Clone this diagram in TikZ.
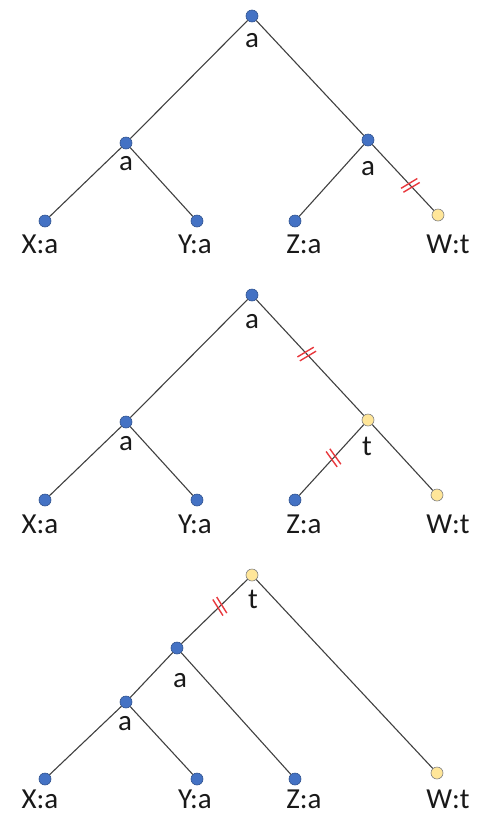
\documentclass[tikz,border=0pt]{standalone}
\usepackage{fontspec}
\setmainfont{Carlito}
\usetikzlibrary{decorations.markings}
\definecolor{bluefill}{HTML}{4472C4}
\definecolor{blueline}{HTML}{2F528F}
\definecolor{yelfill}{HTML}{FFE699}
\definecolor{yelline}{HTML}{808080}
\definecolor{edgecol}{HTML}{404040}
\definecolor{cutcol}{HTML}{E8383D}
\tikzset{
  bdot/.style={circle, draw=blueline, fill=bluefill, line width=0.6pt, minimum size=12pt, inner sep=0pt},
  ydot/.style={circle, draw=yelline, fill=yelfill, line width=0.6pt, minimum size=12pt, inner sep=0pt},
  lab/.style={anchor=base, inner sep=0pt, font=\fontsize{29}{31}\selectfont, text=black!90},
  edge/.style={draw=edgecol, line width=1.1pt},
  cut/.style={postaction={decorate, decoration={markings,
    mark=at position #1 with {\draw[cutcol, line width=1.4pt, rotate=-12] (-2.3pt,-9.5pt)--(-2.3pt,9.5pt) (2.3pt,-9.5pt)--(2.3pt,9.5pt);}}}}
}
\begin{document}
\begin{tikzpicture}[x=1pt,y=-1pt]
\useasboundingbox (0,0) rectangle (484,815);
% ---------- Tree 1 ----------
\node[bdot] (r1) at (252,16) {};
\node[bdot] (l1) at (126,143) {};
\node[bdot] (m1) at (368,140) {};
\node[bdot] (x1) at (45,221) {};
\node[bdot] (y1) at (197,221) {};
\node[bdot] (z1) at (295,221) {};
\node[ydot] (w1) at (438,215) {};
\draw[edge] (r1) -- (l1);
\draw[edge] (r1) -- (m1);
\draw[edge] (l1) -- (x1);
\draw[edge] (l1) -- (y1);
\draw[edge] (m1) -- (z1);
\draw[edge, cut=0.62] (m1) -- (w1);
\node[lab] (ra1) at (252,47) {a};
\node[lab] (la1) at (126,170) {a};
\node[lab] (ma1) at (368,175) {a};
\node[lab] (xl1) at (40,253) {X:a};
\node[lab] (yl1) at (195,253) {Y:a};
\node[lab] (zl1) at (304,253) {Z:a};
\node[lab] (wl1) at (448,253) {W:t};
% ---------- Tree 2 ----------
\node[bdot] (r2) at (252,295) {};
\node[bdot] (l2) at (126,422) {};
\node[ydot] (m2) at (368,420) {};
\node[bdot] (x2) at (45,500) {};
\node[bdot] (y2) at (197,500) {};
\node[bdot] (z2) at (295,500) {};
\node[ydot] (w2) at (437,495) {};
\draw[edge] (r2) -- (l2);
\draw[edge, cut=0.47] (r2) -- (m2);
\draw[edge] (l2) -- (x2);
\draw[edge] (l2) -- (y2);
\draw[edge, cut=0.47] (m2) -- (z2);
\draw[edge] (m2) -- (w2);
\node[lab] (ra2) at (252,328) {a};
\node[lab] (la2) at (126,450) {a};
\node[lab] (ma2) at (367,455) {t};
\node[lab] (xl2) at (40,533) {X:a};
\node[lab] (yl2) at (195,533) {Y:a};
\node[lab] (zl2) at (304,533) {Z:a};
\node[lab] (wl2) at (448,533) {W:t};
% ---------- Tree 3 ----------
\node[ydot] (r3) at (252,575) {};
\node[bdot] (m3) at (177,648) {};
\node[bdot] (l3) at (126,702) {};
\node[bdot] (x3) at (45,779) {};
\node[bdot] (y3) at (197,779) {};
\node[bdot] (z3) at (295,779) {};
\node[ydot] (w3) at (437,773) {};
\draw[edge, cut=0.42] (r3) -- (m3);
\draw[edge] (r3) -- (w3);
\draw[edge] (m3) -- (l3);
\draw[edge] (m3) -- (z3);
\draw[edge] (l3) -- (x3);
\draw[edge] (l3) -- (y3);
\node[lab] (ra3) at (253,608) {t};
\node[lab] (ma3) at (180,687) {a};
\node[lab] (la3) at (125,730) {a};
\node[lab] (xl3) at (40,808) {X:a};
\node[lab] (yl3) at (195,808) {Y:a};
\node[lab] (zl3) at (304,808) {Z:a};
\node[lab] (wl3) at (448,808) {W:t};
\end{tikzpicture}
\end{document}
